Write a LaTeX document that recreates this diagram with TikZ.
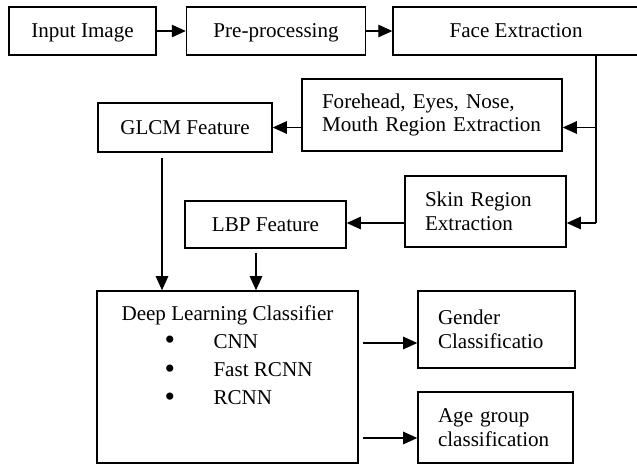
\documentclass[tikz,border=0pt]{standalone}
\usepackage{fontspec}
\setmainfont{Liberation Serif}
\usetikzlibrary{arrows.meta, positioning, calc}

\newcommand{\dlitem}[1]{\hspace*{0.86cm}\makebox[0.98cm][l]{\raisebox{-0.15ex}{\fontsize{17}{16}\selectfont\textbullet}}#1}

\begin{document}
\begin{tikzpicture}[
    x=0.02cm, y=-0.02cm,
    font=\fontsize{12}{13.5}\selectfont,
    block/.style={draw, line width=0.9pt, minimum height=0.96cm, inner sep=0pt,
                  text height=0.95em, text depth=0.2em, align=center},
    txtblock/.style={draw, line width=0.9pt, inner xsep=0.4cm, inner ysep=0pt, align=left},
    link/.style={line width=0.6pt, -{Triangle[length=0.28cm, width=0.25cm]}},
    trunkline/.style={line width=0.6pt}
]
    \useasboundingbox (0,0) rectangle (637,464);

    % top row
    \node[block, minimum width=2.94cm] (input) at (82.5,31) {Input Image};
    \node[block, minimum width=3.58cm, right=0.58cm of input] (prep) {Pre-processing};
    \node[block, minimum width=4.92cm, right=0.52cm of prep] (face) {Face Extraction};

    % regions and features
    \node[txtblock, text width=4.4cm, minimum height=1.44cm] (forehead) at (432,115)
        {Forehead, Eyes, Nose,\\Mouth Region Extraction};
    \node[block, minimum width=3.48cm, minimum height=0.98cm] (glcm) at (185,127.5) {GLCM Feature};
    \node[txtblock, text width=2.42cm, minimum height=1.42cm] (skin) at (485.5,211.5)
        {Skin Region\\Extraction};
    \node[block, minimum width=3.22cm, minimum height=0.94cm] (lbp) at (265.5,224.5) {LBP Feature};

    % classifier and outputs
    \node[draw, line width=0.9pt, minimum width=5.22cm, minimum height=3.44cm] (dl) at (227.5,377) {};
    \node[below=0.3cm of dl.north, inner sep=0pt, align=left,
          font=\fontsize{12}{16}\selectfont] (dllist) {%
        \makebox[4.24cm]{Deep Learning Classifier}\\
        \dlitem{CNN}\\
        \dlitem{Fast RCNN}\\
        \dlitem{RCNN}};
    \node[txtblock, text width=2.34cm, minimum height=1.54cm] (gender) at (496.5,329.5)
        {Gender\\Classificatio};
    \node[txtblock, text width=2.3cm, minimum height=1.42cm] (age) at (495.5,427.5)
        {Age group\\classification};

    % connectors
    \draw[link] (input) -- (prep);
    \draw[link] (prep) -- (face);
    \coordinate (trunk) at (596,223);
    \draw[trunkline] (face.south -| trunk) -- (trunk);
    \draw[link] (trunk |- glcm) -- (forehead.east |- glcm);
    \draw[link] (trunk) -- (skin.east |- trunk);
    \draw[link] (forehead.west |- glcm) -- (glcm);
    \draw[link] (skin.west |- trunk) -- (lbp.east |- trunk);
    \draw[link, shorten <=0.1cm] ([xshift=-0.46cm]glcm.south) -- ([xshift=-0.46cm]glcm.south |- dl.north);
    \draw[link, shorten <=0.08cm] ([xshift=-0.19cm]lbp.south) -- ([xshift=-0.19cm]lbp.south |- dl.north);
    \coordinate (gin) at ([yshift=-0.27cm]gender.west);
    \draw[link, shorten <=0.08cm] (dl.east |- gin) -- (gin);
    \coordinate (ain) at ([yshift=-0.21cm]age.west);
    \draw[link, shorten <=0.08cm] (dl.east |- ain) -- (ain);
\end{tikzpicture}
\end{document}
